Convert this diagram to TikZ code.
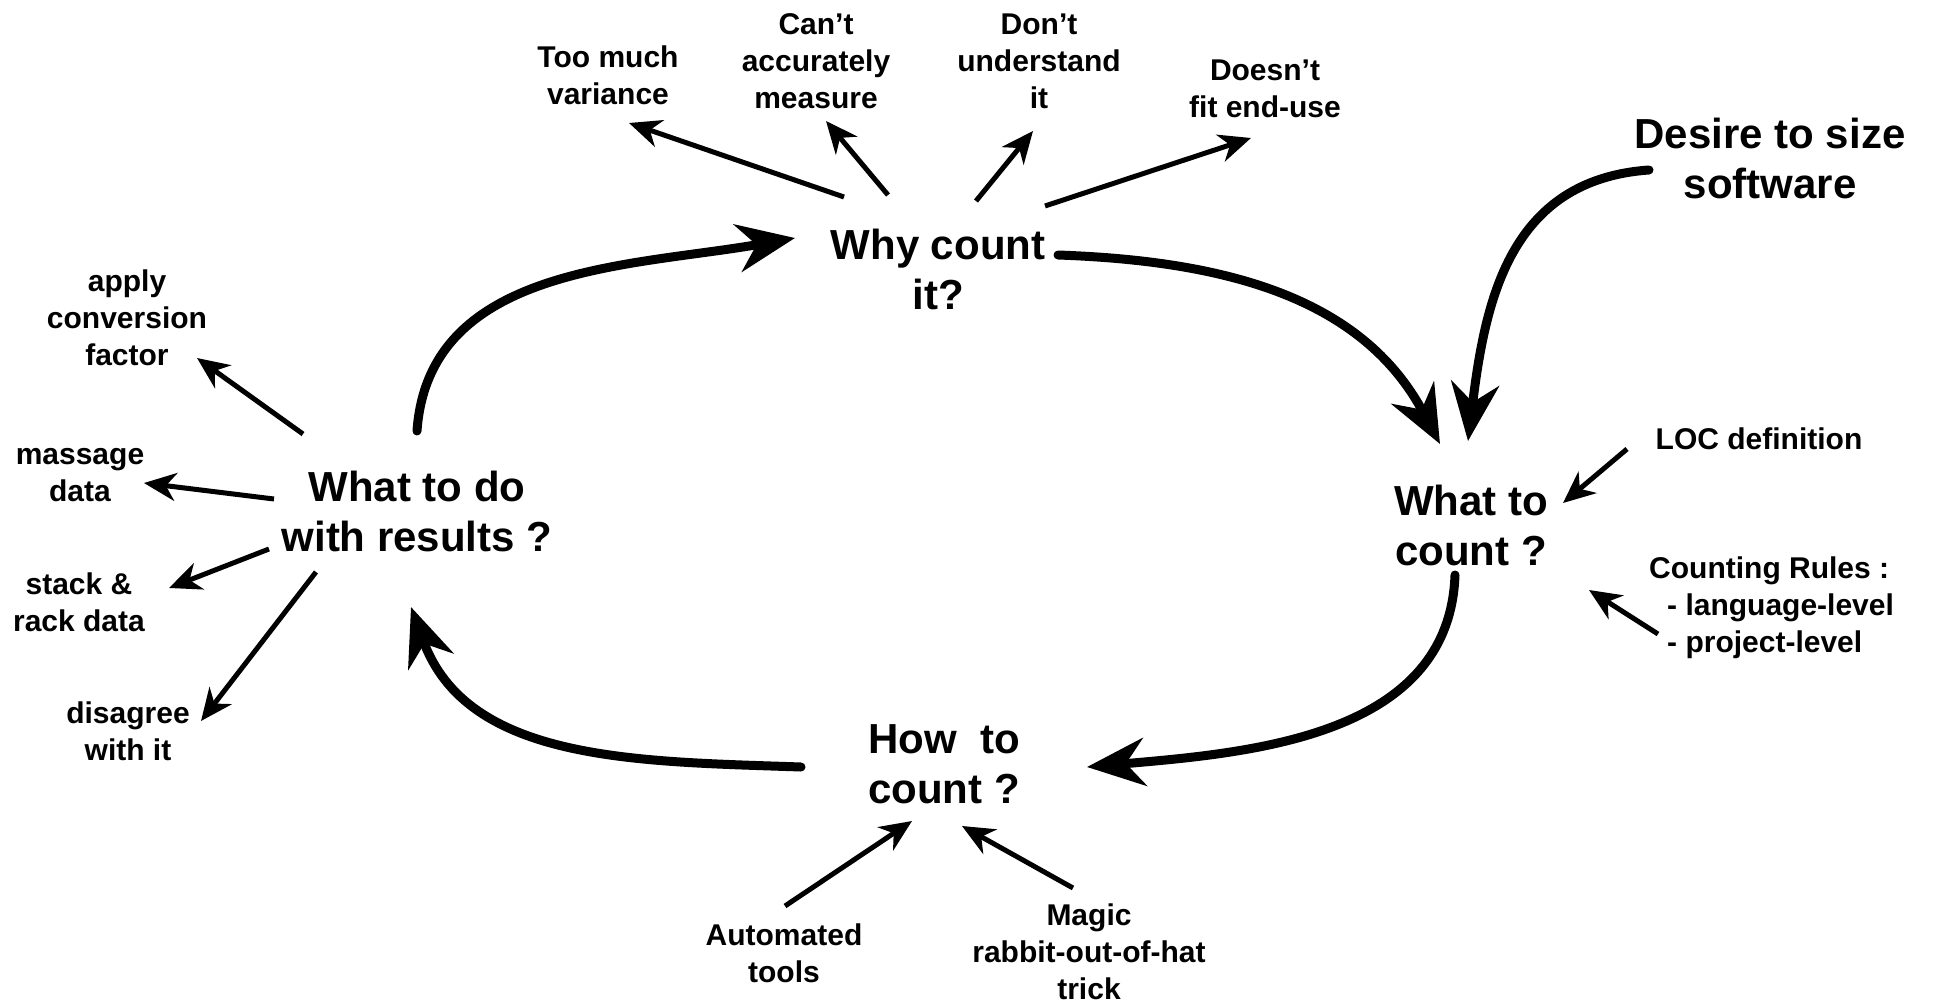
\documentclass[tikz,border=0pt]{standalone}
\usepackage{fontspec}
\setmainfont{Liberation Sans}
\usetikzlibrary{arrows.meta}
\begin{document}
\begin{tikzpicture}[x=1pt,y=1pt,
  big/.style={font=\fontsize{42}{50}\selectfont\bfseries, align=center, inner sep=0pt},
  small/.style={font=\fontsize{30}{37}\selectfont\bfseries, align=center, inner sep=0pt},
  thinarrow/.style={line width=5pt, -{Stealth[length=32pt,width=28pt,inset=10pt]}},
  bigarrow/.style={line width=9pt, line cap=round, -{Stealth[length=58pt,width=48pt,inset=19pt]}}]
\useasboundingbox[fill=white] (0,0) rectangle (1933,-1006);

% main labels
\node[big] (why) at (938,-269) {Why count\\it?};
\node[big] (what) at (1471,-525) {What to\\count ?};
\node[big] (how) at (944,-764) {How~~to\\count ?};
\node[big] (res) at (417,-511) {What to do\\with results ?};
\node[big] (desire) at (1770,-158) {Desire to size\\software};

% small labels
\node[small] (too) at (608,-75) {Too much\\variance};
\node[small] (cant) at (816,-61) {Can’t\\accurately\\measure};
\node[small] (dont) at (1039,-61) {Don’t\\understand\\it};
\node[small] (doesnt) at (1265,-89) {Doesn’t\\fit end-use};
\node[small] (apply) at (127,-318) {apply\\conversion\\factor};
\node[small] (massage) at (80,-475) {massage\\data};
\node[small] (stack) at (79,-602) {stack \&\\rack data};
\node[small] (disagree) at (128,-731) {disagree\\with it};
\node[small] (auto) at (784,-953) {Automated\\tools};
\node[small] (magic) at (1089,-952) {Magic\\rabbit-out-of-hat\\trick};
\node[small] (loc) at (1759,-439) {LOC definition};
\node[small, align=left, anchor=north west] (rules) at (1649,-557)
  {Counting Rules :\\\hspace*{18pt}- language-level\\\hspace*{18pt}- project-level};

% arrow end points
\coordinate (w1s) at (844,-197); \coordinate (w1e) at (629,-123);
\coordinate (w2s) at (888,-195); \coordinate (w2e) at (826,-121);
\coordinate (w3s) at (976,-201); \coordinate (w3e) at (1033,-131);
\coordinate (w4s) at (1045,-206); \coordinate (w4e) at (1251,-138);
\coordinate (r1s) at (303,-434); \coordinate (r1e) at (197,-358);
\coordinate (r2s) at (274,-499); \coordinate (r2e) at (144,-483);
\coordinate (r3s) at (269,-549); \coordinate (r3e) at (169,-588);
\coordinate (r4s) at (316,-572); \coordinate (r4e) at (201,-721);
\coordinate (l1s) at (1627,-449); \coordinate (l1e) at (1563,-503);
\coordinate (l2s) at (1658,-634); \coordinate (l2e) at (1589,-590);
\coordinate (h1s) at (785,-906); \coordinate (h1e) at (912,-821);
\coordinate (h2s) at (1073,-888); \coordinate (h2e) at (962,-826);

\coordinate (aS) at (417,-431); \coordinate (aE) at (795,-238);
\coordinate (bS) at (1058,-255); \coordinate (bE) at (1440,-444);
\coordinate (cS) at (1649,-170); \coordinate (cE) at (1468,-441);
\coordinate (dS) at (1455,-575); \coordinate (dE) at (1087,-767);
\coordinate (eS) at (801,-767); \coordinate (eE) at (411,-607);

% thin arrows
\draw[thinarrow] (w1s) -- (w1e);
\draw[thinarrow] (w2s) -- (w2e);
\draw[thinarrow] (w3s) -- (w3e);
\draw[thinarrow] (w4s) -- (w4e);
\draw[thinarrow] (r1s) -- (r1e);
\draw[thinarrow] (r2s) -- (r2e);
\draw[thinarrow] (r3s) -- (r3e);
\draw[thinarrow] (r4s) -- (r4e);
\draw[thinarrow] (l1s) -- (l1e);
\draw[thinarrow] (l2s) -- (l2e);
\draw[thinarrow] (h1s) -- (h1e);
\draw[thinarrow] (h2s) -- (h2e);

% cycle arrows
\draw[bigarrow] (aS) to[out=86,in=190] (aE);
\draw[bigarrow] (bS) to[out=-2,in=118] (bE);
\draw[bigarrow] (cS) to[out=184,in=83,looseness=1.1] (cE);
\draw[bigarrow] (dS) to[out=-92,in=5] (dE);
\draw[bigarrow] (eS) to[out=178,in=-70] (eE);
\end{tikzpicture}
\end{document}
